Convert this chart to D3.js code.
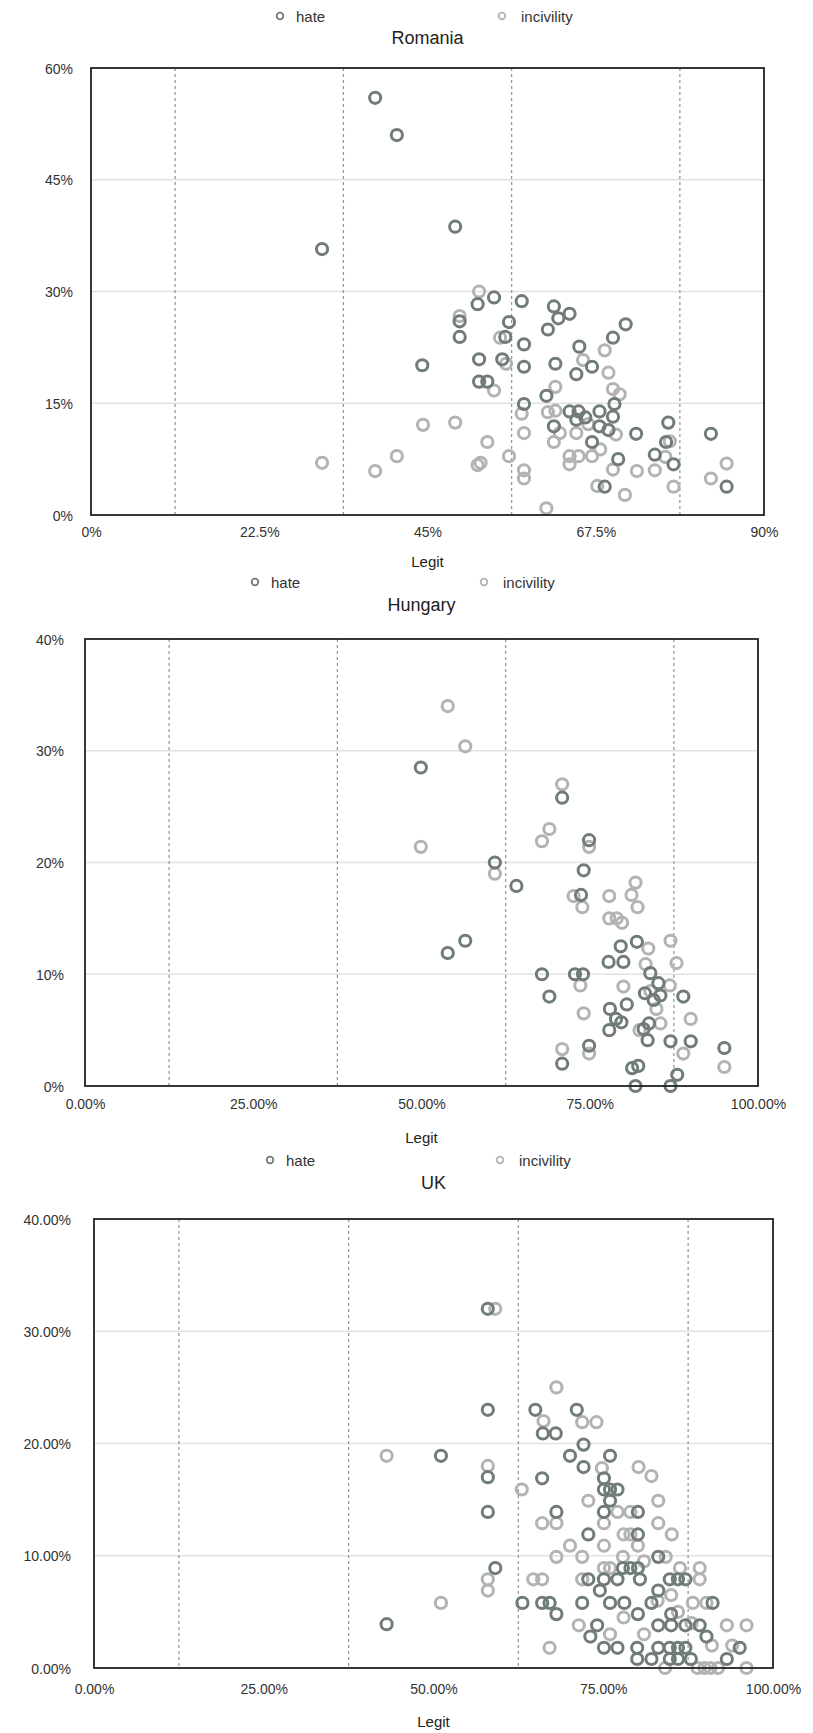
<!DOCTYPE html>
<html lang="en">
<head>
<meta charset="UTF-8">
<script src="https://d3js.org/d3.v7.min.js"></script>
<style>
body { margin: 0; background: #fff; }
text { font-family: "Liberation Sans", Arial, sans-serif; fill: #333; }
.title { font-size: 18px; fill: #222; }
.legend text { font-size: 15px; }
.tick text { font-size: 14px; }
.axis-title { font-size: 15px; fill: #222; }
.grid { stroke: #e2e2e2; stroke-width: 1.5; }
.vline { stroke: #999; stroke-width: 1.3; stroke-dasharray: 3,3; }
.frame { fill: none; stroke: #222; stroke-width: 1.8; }
</style>
</head>
<body>
<script>
// ---- data (percent values) ----
const series = ["hate", "incivility"];
const colors = { hate: "#6f7c78", incivility: "#b3b3b3" };

const romaniaHate = [
  [38.0,56.0],[40.9,51.0],[30.9,35.7],[48.7,38.7],[44.3,20.1],[49.3,26.0],[49.3,23.9],
  [51.7,28.3],[53.9,29.2],[57.6,28.7],[61.9,28.0],[62.5,26.4],[64.0,27.0],[61.1,24.9],
  [55.9,25.9],[55.4,23.9],[57.9,22.9],[71.5,25.6],[69.8,23.8],[65.3,22.6],[51.9,20.9],
  [55.0,20.9],[57.9,19.9],[62.1,20.3],[67.0,19.9],[64.9,18.9],[51.9,17.9],[53.0,17.9],
  [60.9,16.0],[57.9,14.9],[70.0,14.9],[64.0,13.9],[65.2,13.9],[64.9,12.8],[66.1,13.1],
  [68.0,13.9],[69.8,13.2],[68.0,11.9],[69.2,11.4],[61.9,11.9],[67.0,9.8],[72.9,10.9],
  [77.2,12.4],[76.9,9.8],[75.4,8.1],[77.9,6.8],[70.5,7.5],[68.7,3.8],[82.9,10.9],[85.0,3.8]
];
const romaniaIncivility = [
  [30.9,7.0],[38.0,5.9],[40.9,7.9],[44.4,12.1],[48.7,12.4],[53.0,9.8],[51.7,6.7],[52.1,7.0],
  [55.9,7.9],[57.9,6.0],[57.9,4.9],[51.9,30.0],[49.3,26.7],[54.7,23.8],[68.7,22.1],[55.5,20.3],
  [65.8,20.8],[69.2,19.1],[53.9,16.7],[62.1,17.2],[69.8,16.9],[70.7,16.2],[57.6,13.6],[61.1,13.8],
  [62.1,14.0],[70.2,10.8],[62.7,11.0],[64.9,11.0],[57.9,11.0],[61.9,9.8],[68.1,8.8],[64.0,7.9],
  [65.2,7.9],[64.0,6.8],[67.0,7.9],[77.4,9.9],[76.8,7.8],[69.8,6.1],[73.0,5.9],[75.4,6.0],
  [67.7,3.9],[71.4,2.7],[77.9,3.8],[60.9,0.9],[85.0,6.9],[82.9,4.9],[66.5,12.2]
];

const hungaryHate = [
  [49.9,28.5],[70.9,25.8],[74.9,22.0],[60.9,20.0],[64.1,17.9],[74.1,19.3],[73.7,17.1],
  [53.9,11.9],[56.5,13.0],[79.6,12.5],[82.0,12.9],[77.8,11.1],[80.0,11.1],[67.9,10.0],
  [72.8,10.0],[74.0,10.0],[84.0,10.1],[85.2,9.2],[69.0,8.0],[83.2,8.3],[84.5,7.7],[85.5,8.1],
  [88.9,8.0],[80.5,7.3],[78.0,6.9],[79.7,5.7],[78.9,6.0],[77.9,5.0],[83.8,5.6],[83.0,5.1],
  [83.6,4.1],[87.0,4.0],[90.0,4.0],[74.9,3.6],[70.9,2.0],[95.0,3.4],[82.2,1.8],[81.3,1.6],
  [81.8,0.0],[88.0,1.0],[87.0,0.0]
];
const hungaryIncivility = [
  [53.9,34.0],[56.5,30.4],[70.9,27.0],[69.0,23.0],[67.9,21.9],[49.9,21.4],[74.9,21.4],
  [60.9,19.0],[72.6,17.0],[73.9,16.0],[77.9,17.0],[81.8,18.2],[81.2,17.1],[82.1,16.0],
  [77.9,15.0],[79.0,15.0],[79.8,14.6],[83.7,12.3],[87.0,13.0],[87.9,11.0],[83.3,10.9],
  [73.6,9.0],[86.9,9.0],[80.0,8.9],[84.9,6.9],[74.1,6.5],[90.0,6.0],[85.5,5.6],[82.4,5.0],
  [88.9,2.9],[74.9,2.9],[70.9,3.3],[95.0,1.7],[84.0,8.5]
];

const ukHate = [
  [58.0,32.0],[58.0,23.0],[65.0,23.0],[71.1,23.0],[66.1,20.9],[68.0,20.9],[72.1,19.9],
  [70.1,18.9],[76.0,18.9],[72.1,17.9],[51.1,18.9],[58.0,17.0],[58.0,13.9],[59.1,8.9],
  [43.1,3.9],[66.0,16.9],[75.1,16.9],[75.1,15.9],[76.0,15.9],[77.1,15.9],[76.0,14.9],
  [75.1,13.9],[68.1,13.9],[80.1,13.9],[72.8,11.9],[80.1,11.9],[83.1,9.9],[77.9,8.9],
  [79.0,8.9],[80.1,8.9],[72.8,7.9],[75.1,7.9],[77.1,7.9],[80.4,7.9],[84.8,7.9],[86.0,7.9],
  [87.1,7.9],[74.5,6.9],[76.0,5.8],[78.1,5.8],[63.1,5.8],[66.0,5.8],[67.1,5.8],[68.1,4.8],
  [71.9,5.8],[82.1,5.8],[83.1,6.9],[80.1,4.8],[85.0,4.8],[83.1,3.8],[85.0,3.8],[87.1,3.8],
  [89.2,3.8],[90.2,2.8],[74.1,3.8],[73.1,2.8],[75.1,1.8],[77.1,1.8],[80.0,1.8],[83.1,1.8],
  [84.8,1.8],[86.0,1.8],[87.1,1.8],[95.1,1.8],[80.0,0.8],[82.1,0.8],[84.8,0.8],[86.0,0.8],
  [87.9,0.8],[93.2,0.8],[91.1,5.8]
];
const ukIncivility = [
  [59.1,32.0],[68.1,25.0],[66.2,22.0],[71.9,21.9],[74.0,21.9],[80.2,17.9],[82.1,17.1],
  [43.1,18.9],[58.0,18.0],[74.8,17.8],[63.0,15.9],[72.8,14.9],[77.1,13.9],[83.1,14.9],
  [66.0,12.9],[68.1,12.9],[79.0,13.9],[83.1,12.9],[75.1,12.9],[78.0,11.9],[79.0,11.9],
  [85.1,11.9],[70.1,10.9],[75.1,10.9],[80.1,10.9],[68.1,9.9],[71.9,9.9],[77.9,9.9],
  [84.2,9.9],[75.1,8.9],[76.0,8.9],[86.3,8.9],[89.2,8.9],[64.7,7.9],[66.0,7.9],[71.9,7.9],
  [89.2,7.9],[58.0,7.9],[58.0,6.9],[51.1,5.8],[88.2,5.8],[90.2,5.8],[93.2,3.8],[96.1,3.8],
  [71.4,3.8],[67.1,1.8],[84.1,0.0],[88.9,0.0],[89.9,0.0],[90.8,0.0],[91.9,0.0],[96.1,0.0],
  [83.0,6.0],[86.0,5.0],[88.0,4.0],[81.0,3.0],[78.0,4.5],[76.0,3.0],[91.0,2.0],[94.0,2.0],
  [81.0,9.5],[85.0,6.5]
];

// ticks
const romaniaXTicks = [0, 22.5, 45, 67.5, 90];
const romaniaYTicks = [0, 15, 30, 45, 60];
const hungaryXTicks = [0, 25, 50, 75, 100];
const hungaryYTicks = [0, 10, 20, 30, 40];
const ukXTicks = [0, 25, 50, 75, 100];
const ukYTicks = [0, 10, 20, 30, 40];

const plain = v => v + "%";
const twoDec = v => v.toFixed(2) + "%";

const panels = [
  { title: "Romania", hate: romaniaHate, incivility: romaniaIncivility,
    xTicks: romaniaXTicks, yTicks: romaniaYTicks, xFmt: plain, yFmt: plain,
    box: [91, 764, 68, 515], legendY: 16, legendX: [280, 502], titleY: 38,
    xLabY: 532, legitY: 561, yLabX: 73 },
  { title: "Hungary", hate: hungaryHate, incivility: hungaryIncivility,
    xTicks: hungaryXTicks, yTicks: hungaryYTicks, xFmt: twoDec, yFmt: plain,
    box: [85, 758, 639, 1086], legendY: 582, legendX: [255, 484], titleY: 605,
    xLabY: 1104, legitY: 1137, yLabX: 64 },
  { title: "UK", hate: ukHate, incivility: ukIncivility,
    xTicks: ukXTicks, yTicks: ukYTicks, xFmt: twoDec, yFmt: twoDec,
    box: [94, 773, 1219, 1668], legendY: 1160, legendX: [270, 500], titleY: 1183,
    xLabY: 1689, legitY: 1721, yLabX: 71 }
];

const svg = d3.select("body").append("svg")
  .attr("width", 813).attr("height", 1733);

panels.forEach(p => {
  const [x0, x1, y0, y1] = p.box;
  const x = d3.scaleLinear().domain([0, d3.max(p.xTicks)]).range([x0, x1]);
  const y = d3.scaleLinear().domain([0, d3.max(p.yTicks)]).range([y1, y0]);
  const g = svg.append("g");

  // legend
  const lg = g.append("g").attr("class", "legend");
  series.forEach((s, i) => {
    lg.append("circle").attr("cx", p.legendX[i]).attr("cy", p.legendY).attr("r", 3.3)
      .attr("fill", "none").attr("stroke", colors[s]).attr("stroke-width", 1.8);
    lg.append("text").attr("x", p.legendX[i] + (i ? 19 : 16)).attr("y", p.legendY)
      .attr("dominant-baseline", "central").text(s);
  });

  g.append("text").attr("class", "title")
    .attr("x", (x0 + x1) / 2).attr("y", p.titleY)
    .attr("text-anchor", "middle").attr("dominant-baseline", "central")
    .text(p.title);

  // horizontal gridlines
  g.selectAll(".grid").data(p.yTicks.slice(1, -1)).join("line")
    .attr("class", "grid")
    .attr("x1", x0).attr("x2", x1)
    .attr("y1", d => y(d)).attr("y2", d => y(d));

  // dashed vertical lines halfway between x ticks
  const mids = d3.pairs(p.xTicks).map(([a, b]) => (a + b) / 2);
  g.selectAll(".vline").data(mids).join("line")
    .attr("class", "vline")
    .attr("x1", d => x(d)).attr("x2", d => x(d))
    .attr("y1", y0).attr("y2", y1);

  // axes (labels only)
  g.append("g").attr("transform", `translate(0,${p.xLabY - 8})`)
    .call(d3.axisBottom(x).tickValues(p.xTicks).tickFormat(p.xFmt).tickSize(0).tickPadding(0))
    .call(a => a.select(".domain").remove())
    .call(a => a.selectAll("text").attr("fill", "#333").attr("dy", null)
      .attr("y", 8).attr("dominant-baseline", "central"));

  g.append("g").attr("transform", `translate(${p.yLabX},0)`)
    .call(d3.axisLeft(y).tickValues(p.yTicks).tickFormat(p.yFmt).tickSize(0).tickPadding(0))
    .call(a => a.select(".domain").remove())
    .call(a => a.selectAll("text").attr("fill", "#333").attr("dy", null)
      .attr("dominant-baseline", "central"));

  g.append("text").attr("class", "axis-title")
    .attr("x", (x0 + x1) / 2).attr("y", p.legitY)
    .attr("text-anchor", "middle").attr("dominant-baseline", "central")
    .text("Legit");

  // points: incivility underneath, hate on top
  ["incivility", "hate"].forEach(s => {
    g.append("g").selectAll("circle").data(p[s]).join("circle")
      .attr("cx", d => x(d[0])).attr("cy", d => y(d[1])).attr("r", 5.6)
      .attr("fill", "none").attr("stroke", colors[s]).attr("stroke-width", 3);
  });

  g.append("rect").attr("class", "frame")
    .attr("x", x0).attr("y", y0).attr("width", x1 - x0).attr("height", y1 - y0);
});
</script>
</body>
</html>
